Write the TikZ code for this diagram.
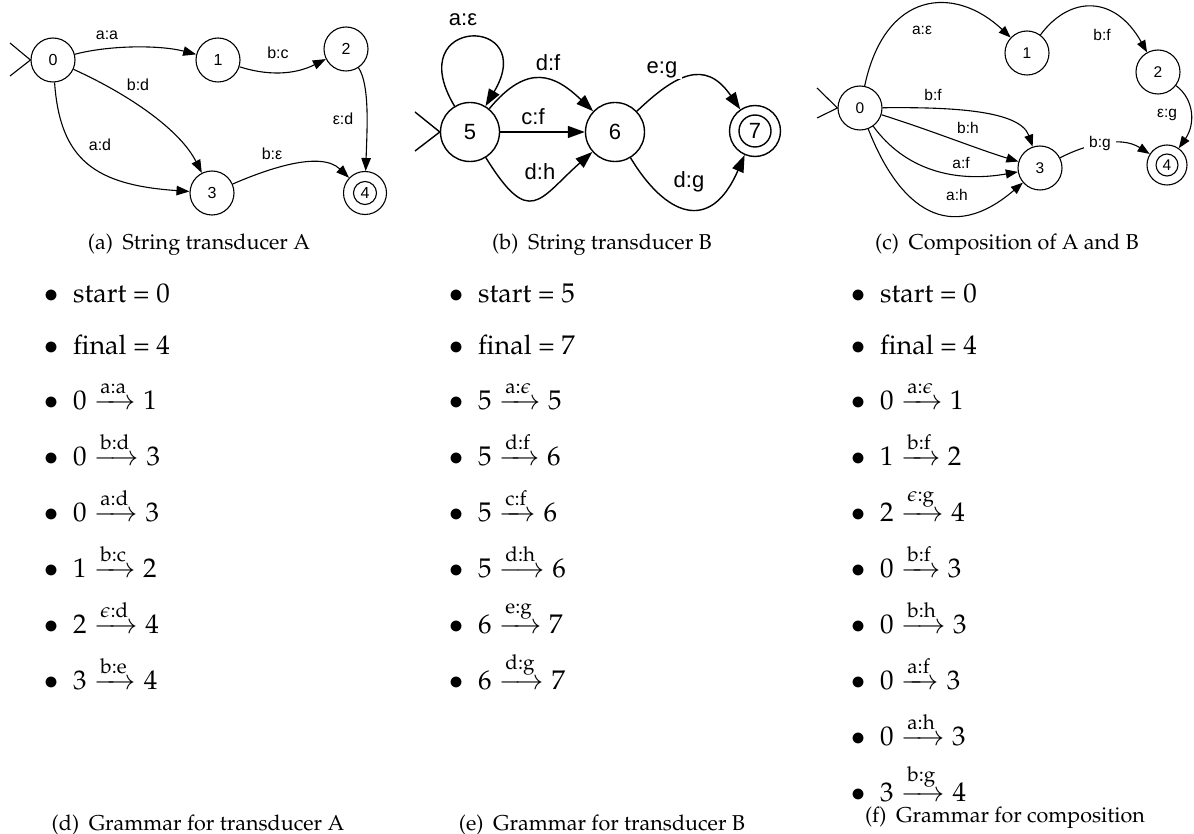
\documentclass[tikz,border=0pt]{standalone}
\usepackage{amsmath}
\usepackage[no-math]{fontspec}
\newfontfamily\gfont{Liberation Sans}
\usepackage{mathpazo}
\usetikzlibrary{arrows.meta}
\DeclareRobustCommand\palfont{\fontencoding{T1}\fontfamily{ppl}\selectfont}
% one bullet line of a grammar list: name, bullet x, baseline y, text
\newcommand\listrow[4]{%
  \node[bul] (#1b) at (#2,#3) {$\bullet$};
  \node[itemtext] (#1) at ({#2+21},#3) {#4};}
\newcommand\trn[3]{$#1 \xrightarrow{\text{#2}} #3$}
\begin{document}
\begin{tikzpicture}[x=1pt,y=-1pt,
  % panel A
  nA/.style={circle,draw,line width=1.1pt,minimum size=44pt,inner sep=0pt,font=\gfont\fontsize{16}{19}\selectfont},
  inA/.style={circle,draw,line width=1.1pt,minimum size=23pt,inner sep=0pt,font=\gfont\fontsize{16}{19}\selectfont},
  eA/.style={line width=1.1pt,-{Triangle[length=13pt,width=9.5pt]}},
  lA/.style={fill=white,inner xsep=4pt,inner ysep=1pt,font=\gfont\fontsize{16}{19}\selectfont},
  % panel B
  nB/.style={circle,draw,line width=1.4pt,minimum size=59pt,inner sep=0pt,font=\gfont\fontsize{22}{26}\selectfont},
  nBf/.style={circle,draw,line width=1.4pt,minimum size=51pt,inner sep=0pt},
  inB/.style={circle,draw,line width=1.4pt,minimum size=32pt,inner sep=0pt,font=\gfont\fontsize{22}{26}\selectfont},
  eB/.style={line width=1.4pt,-{Triangle[length=17pt,width=12pt]}},
  lB/.style={fill=white,inner xsep=5pt,inner ysep=1pt,font=\gfont\fontsize{22}{26}\selectfont},
  % panel C
  nC/.style={circle,draw,line width=1.1pt,minimum size=44pt,inner sep=0pt,font=\gfont\fontsize{15.5}{18}\selectfont},
  nCf/.style={circle,draw,line width=1.1pt,minimum size=40pt,inner sep=0pt},
  inC/.style={circle,draw,line width=1.1pt,minimum size=22pt,inner sep=0pt,font=\gfont\fontsize{15.5}{18}\selectfont},
  eC/.style={line width=1.1pt,-{Triangle[length=12pt,width=9pt]}},
  lC/.style={fill=white,inner xsep=5pt,inner ysep=1pt,font=\gfont\fontsize{15.5}{18}\selectfont},
  % text parts
  bul/.style={anchor=base,inner sep=0pt,font=\palfont\fontsize{27}{32}\selectfont},
  itemtext/.style={anchor=base west,inner sep=0pt,font=\palfont\fontsize{27}{32}\selectfont},
  captext/.style={anchor=base,inner sep=0pt,font=\palfont\fontsize{21.5}{26}\selectfont}]

\fill[white] (0,0) rectangle (1194,834);
\useasboundingbox (0,0) rectangle (1194,834);

% ---------------- transducer A ----------------
\node[nA] (a0) at (53,60) {0};
\node[nA] (a1) at (218,60) {1};
\node[nA] (a2) at (346,49) {2};
\node[nA] (a3) at (212,193) {3};
\node[nA,minimum size=43pt] (a4) at (365,193) {};
\node[inA] (a4i) at (365,193) {4};
\coordinate (a0p) at (10,43);
\coordinate (a0q) at (10,76);
\draw[line width=1.1pt] (a0p) -- (a0.west) -- (a0q);

\draw[eA] (a0) .. controls (110,45) and (160,45) .. (a1);
\draw[eA] (a1) .. controls (275,78) and (300,72) .. (a2);
\draw[eA] (a0) .. controls (130,95) and (180,130) .. (a3);
\draw[eA] (a0) .. controls (60,160) and (95,185) .. (a3);
\draw[eA] (a2) .. controls (370,85) and (367,130) .. (a4);
\draw[eA] (a3) .. controls (265,170) and (320,150) .. (a4);

\node[lA] (la1) at (107,35) {a:a};
\node[lA] (la2) at (278,53) {b:c};
\node[lA] (la3) at (138,85) {b:d};
\node[lA] (la4) at (343,119) {ε:d};
\node[lA] (la5) at (100,145) {a:d};
\node[lA] (la6) at (272,154) {b:ε};

% ---------------- transducer B ----------------
\node[nB] (b5) at (470,132) {5};
\node[nB] (b6) at (615,132) {6};
\node[nBf] (b7) at (755,131) {};
\node[inB] (b7i) at (755,131) {7};
\coordinate (b5p) at (415,112);
\coordinate (b5q) at (415,151);
\draw[line width=1.4pt] (b5p) -- (b5.west) -- (b5q);

\draw[eB] (b5) .. controls (400,15) and (540,15) .. (b5);
\draw[eB] (b5) .. controls (528,62) and (555,75) .. (b6);
\draw[eB] (b5) -- (b6);
\draw[eB] (b5) .. controls (530,229) and (539,199) .. (b6);
\draw[eB] (b6) .. controls (675,75) and (705,58) .. (b7);
\draw[eB] (b6) .. controls (665,215) and (710,235) .. (b7);

\node[lB] (lb1) at (463,20) {a:ε};
\node[lB] (lb2) at (548,63) {d:f};
\node[lB] (lb3) at (533,117) {c:f};
\node[lB] (lb4) at (540,172) {d:h};
\node[lB] (lb5) at (662,70) {e:g};
\node[lB] (lb6) at (689,182) {d:g};

% ---------------- composition ----------------
\node[nC] (c0) at (860,108) {0};
\node[nC] (c1) at (1027,53) {1};
\node[nC] (c2) at (1158,72) {2};
\node[nC] (c3) at (1040,168) {3};
\node[nCf] (c4) at (1167,165) {};
\node[inC] (c4i) at (1167,165) {4};
\coordinate (c0p) at (817,88);
\coordinate (c0q) at (817,118);
\draw[line width=1.1pt] (c0p) -- (c0.west) -- (c0q);

\draw[eC] (c0) .. controls (885,-10) and (955,-15) .. (c1);
\draw[eC] (c1) .. controls (1070,-5) and (1115,-5) .. (c2);
\draw[eC] (c2) .. controls (1195,100) and (1195,125) .. (c4);
\draw[eC] (c3) .. controls (1085,145) and (1120,135) .. (c4);
\draw[eC] (c0) .. controls (950,107) and (1020,110) .. (c3);
\draw[eC] (c0) .. controls (930,130) and (980,150) .. (c3);
\draw[eC] (c0) .. controls (905,170) and (955,183) .. (c3);
\draw[eC] (c0) .. controls (900,210) and (950,245) .. (c3);

\node[lC] (lc1) at (922,30) {a:ε};
\node[lC] (lc2) at (1102,35) {b:f};
\node[lC] (lc3) at (1167,115) {ε:g};
\node[lC] (lc4) at (1100,143) {b:g};
\node[lC] (lc5) at (933,95) {b:f};
\node[lC] (lc6) at (968,128) {b:h};
\node[lC] (lc7) at (961,163) {a:f};
\node[lC] (lc8) at (957,195) {a:h};

% ---------------- captions ----------------
\node[captext] (capa) at (199,250) {(a)\hspace{0.45em}String transducer A};
\node[captext] (capb) at (602,250) {(b)\hspace{0.45em}String transducer B};
\node[captext] (capc) at (1007,250) {(c)\hspace{0.45em}Composition of A and B};
\node[captext] (capd) at (198,830) {(d)\hspace{0.45em}Grammar for transducer A};
\node[captext] (cape) at (602,830) {(e)\hspace{0.45em}Grammar for transducer B};
\node[captext] (capf) at (1005,822) {(f)\hspace{0.45em}Grammar for composition};

% ---------------- grammar for A ----------------
\listrow{d1}{52}{302}{start = 0}
\listrow{d2}{52}{354}{final = 4}
\listrow{d3}{52}{409}{\trn{0}{a:a}{1}}
\listrow{d4}{52}{465}{\trn{0}{b:d}{3}}
\listrow{d5}{52}{521}{\trn{0}{a:d}{3}}
\listrow{d6}{52}{577}{\trn{1}{b:c}{2}}
\listrow{d7}{52}{633}{\trn{2}{$\epsilon$:d}{4}}
\listrow{d8}{52}{689}{\trn{3}{b:e}{4}}

% ---------------- grammar for B ----------------
\listrow{e1}{457}{302}{start = 5}
\listrow{e2}{457}{354}{final = 7}
\listrow{e3}{457}{409}{\trn{5}{a:$\epsilon$}{5}}
\listrow{e4}{457}{465}{\trn{5}{d:f}{6}}
\listrow{e5}{457}{521}{\trn{5}{c:f}{6}}
\listrow{e6}{457}{577}{\trn{5}{d:h}{6}}
\listrow{e7}{457}{633}{\trn{6}{e:g}{7}}
\listrow{e8}{457}{689}{\trn{6}{d:g}{7}}

% ---------------- grammar for the composition ----------------
\listrow{f1}{859}{302}{start = 0}
\listrow{f2}{859}{354}{final = 4}
\listrow{f3}{859}{409}{\trn{0}{a:$\epsilon$}{1}}
\listrow{f4}{859}{465}{\trn{1}{b:f}{2}}
\listrow{f5}{859}{521}{\trn{2}{$\epsilon$:g}{4}}
\listrow{f6}{859}{577}{\trn{0}{b:f}{3}}
\listrow{f7}{859}{633}{\trn{0}{b:h}{3}}
\listrow{f8}{859}{689}{\trn{0}{a:f}{3}}
\listrow{f9}{859}{745}{\trn{0}{a:h}{3}}
\listrow{f10}{859}{801}{\trn{3}{b:g}{4}}
\end{tikzpicture}
\end{document}
